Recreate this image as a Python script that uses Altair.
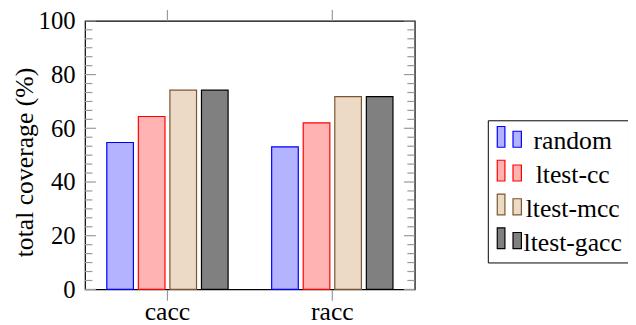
import altair as alt
import pandas as pd

categories = ["cacc", "racc"]
series = ["random", "ltest-cc", "ltest-mcc", "ltest-gacc"]
cacc_values = [54.7, 64.4, 74.2, 74.2]
racc_values = [53.1, 62.0, 71.8, 71.8]
y_major = [0, 20, 40, 60, 80, 100]
y_minor = [round(m + k * 20 / 6, 2) for m in y_major[:-1] for k in range(1, 6)]

fills = ["#b3b3ff", "#ffb3b3", "#ecd9c6", "#808080"]
strokes = ["#0000ff", "#ff0000", "#7a5530", "#000000"]

rows = []
for cat, vals in zip(categories, [cacc_values, racc_values]):
    for s, v in zip(series, vals):
        rows.append({"cat": cat, "series": s, "value": v})
df = pd.DataFrame(rows)

major_df = pd.DataFrame({"value": y_major})
minor_df = pd.DataFrame({"value": y_minor})
cat_df = pd.DataFrame({"cat": categories})

FONT = "Liberation Serif"
TICK = "#999999"
TITLE = "total coverage (%)"

sym_path = ("M-0.8,-1.02L-0.28,-1.02L-0.28,0.39L-0.8,0.39Z "
            "M0.27,-0.7L0.84,-0.7L0.84,0.39L0.27,0.39Z")

legend = alt.Legend(
    title=None, orient="none", legendX=408, legendY=100.7,
    padding=6, strokeColor="black", fillColor="white",
    symbolType=sym_path, symbolSize=888, symbolStrokeWidth=1.2,
    labelFont=FONT, labelFontSize=26, labelAlign="center",
    labelOffset=49, labelBaseline="middle", rowPadding=2.2,
    labelColor="black", labelLimit=300,
)

x_enc = alt.X(
    "cat:N", sort=categories,
    scale=alt.Scale(domain=categories, paddingInner=0, paddingOuter=0),
    axis=alt.Axis(
        labelAngle=0, tickColor=TICK, tickSize=11, tickWidth=1.2,
        domain=False, grid=False, labelPadding=19, labelBaseline="alphabetic",
        labelFont=FONT, labelFontSize=26, labelColor="black",
    ),
    title=None,
)

y_axis = alt.Axis(
    values=y_major, ticks=False, domain=False, grid=False,
    labelPadding=10, labelFont=FONT, labelFontSize=25, labelColor="black",
    titleFont=FONT, titleFontSize=26, titleFontWeight="normal",
    titleColor="black", titleX=-53, titleY=143, titleAngle=270,
    titleBaseline="alphabetic", titleAlign="center",
)

bars = alt.Chart(df).mark_bar(strokeWidth=1.2, opacity=1).encode(
    x=x_enc,
    xOffset=alt.XOffset(
        "series:N", sort=series,
        scale=alt.Scale(domain=series, paddingInner=5 / 32, paddingOuter=0.69),
    ),
    y=alt.Y("value:Q", scale=alt.Scale(domain=[0, 100], nice=False),
            axis=y_axis, title=TITLE),
    fill=alt.Fill("series:N", sort=series,
                  scale=alt.Scale(domain=series, range=fills), legend=legend),
    stroke=alt.Stroke("series:N", sort=series,
                      scale=alt.Scale(domain=series, range=strokes), legend=legend),
)

def yrule(data, x0, x1):
    return alt.Chart(data).mark_rule(color=TICK, strokeWidth=1.2).encode(
        y=alt.Y("value:Q", axis=y_axis, title=TITLE),
        x=alt.value(x0), x2=alt.value(x1),
    )

W, H = 334, 272
ticks_layers = [
    yrule(major_df, 0, 11),
    yrule(major_df, W - 11, W),
    yrule(minor_df, 0, 7.5),
    yrule(minor_df, W - 7.5, W),
]

top_ticks = alt.Chart(cat_df).mark_rule(color=TICK, strokeWidth=1.2).encode(
    x=x_enc,
    y=alt.value(-11), y2=alt.value(0),
)

chart = alt.layer(bars, *ticks_layers, top_ticks).properties(
    width=W, height=H,
    autosize=alt.AutoSizeParams(type="none"),
    padding={"left": 78, "top": 11, "right": 216, "bottom": 34},
).configure(font=FONT).configure_axis(
    labelFont=FONT, titleFont=FONT
).configure_legend(labelFont=FONT).configure_view(stroke="black", strokeWidth=1.2)

chart.save("out.html", embed_options={"renderer": "svg", "actions": False})
